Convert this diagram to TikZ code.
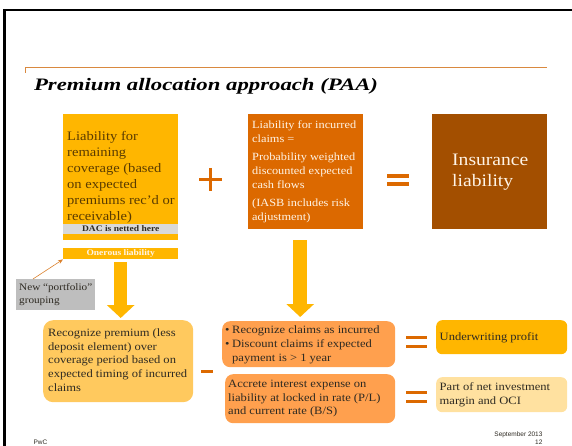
\documentclass[tikz,border=0pt]{standalone}
\usepackage{fontspec}
\setmainfont{Liberation Serif}[FakeStretch=1.12]
\newfontfamily\titlefont{Liberation Serif}[FakeStretch=1.3]
\newfontfamily\footfont{Liberation Sans}
\usetikzlibrary{arrows.meta}

\definecolor{pwcyellow}{HTML}{FFB600}
\definecolor{pwcorange}{HTML}{DC6900}
\definecolor{pwcbrown}{HTML}{A34F00}
\definecolor{softyellow}{HTML}{FFC95E}
\definecolor{softorange}{HTML}{FFA04E}
\definecolor{paleyellow}{HTML}{FFE1A0}
\definecolor{stripgray}{HTML}{D9D9D9}
\definecolor{notegray}{HTML}{BEBEBE}
\definecolor{rulecol}{HTML}{D9893F}
\definecolor{darktext}{HTML}{2E2A22}
\definecolor{browntext}{HTML}{5A3B00}
\definecolor{lighttext}{HTML}{FFF4E6}

% left-aligned block of fixed lines inside a box of given text width
\newcommand\textlines[2]{\makebox[#1][l]{\begin{tabular}{@{}l@{}}#2\end{tabular}}}

\tikzset{
  box/.style={anchor=north west, inner sep=0pt, draw=none},
  strip/.style={anchor=north west, inner sep=0pt, align=center,
    font=\bfseries\fontsize{8.5}{10}\selectfont},
  blockarrow/.style={pwcyellow, line width=13.5pt,
    -{Triangle[width=27pt,length=13pt]}},
  sign/.style={pwcorange, line width=3pt},
}

\begin{document}
\begin{tikzpicture}[x=1pt,y=-1pt]
\useasboundingbox (0,0) rectangle (572,446);

% slide frame and header rule
\draw[line width=2.3pt] (4.5,446) -- (4.5,10.2) -- (572,10.2);
\draw[rulecol, line width=0.8pt] (25,73) -- (25,67.5) -- (547,67.5);

\node[anchor=base west, font=\titlefont\bfseries\itshape\fontsize{17.5}{20}\selectfont]
  (title) at (30.5,91) {Premium allocation approach (PAA)};

% top row: components of the insurance liability
\node[box, fill=pwcyellow, minimum width=115pt, minimum height=126pt,
  text=browntext, font=\fontsize{13}{16}\selectfont]
  (lrc) at (63,114) {\textlines{107pt}{Liability for\\ remaining\\ coverage (based\\ on expected\\ premiums rec'd or\\ receivable)}};
\node[strip, fill=stripgray, minimum width=115pt, minimum height=9.3pt, text=darktext]
  (dac) at (63,224) {DAC is netted here};
\node[strip, fill=pwcyellow, minimum width=115pt, minimum height=11pt, text=lighttext]
  (onerous) at (63,248) {Onerous liability};

\node[box, fill=pwcorange, minimum width=115pt, minimum height=115pt,
  text=lighttext, font=\fontsize{11}{14}\selectfont]
  (lic) at (248,114) {\textlines{107pt}{Liability for incurred\\ claims =\\[4pt] Probability weighted\\ discounted expected\\ cash flows\\[4pt] (IASB includes risk\\ adjustment)}};

\node[box, fill=pwcbrown, minimum width=115pt, minimum height=115pt,
  text=lighttext, font=\fontsize{17.5}{21}\selectfont]
  (ins) at (432,114) {\textlines{75pt}{Insurance\\ liability}};

% plus and equals signs of the top row
\draw[sign] (199,179.5) -- (222,179.5);
\draw[sign] (210.5,168) -- (210.5,191);
\draw[sign, line width=3.4pt] (387,176) -- (409,176);
\draw[sign, line width=3.4pt] (387,184) -- (409,184);

% portfolio note
\node[box, fill=notegray, minimum width=79pt, minimum height=31pt,
  text=darktext, font=\fontsize{10}{13}\selectfont]
  (port) at (16,279) {\textlines{73pt}{New ``portfolio''\\ grouping}};
\draw[rulecol!70!pwcorange, line width=0.6pt, -{Stealth[length=5pt,width=4pt]}]
  ([xshift=17pt]port.north west) -- (onerous.south west);

% bottom row: recognition in the income statement
\node[box, fill=softyellow, rounded corners=10pt, minimum width=150pt, minimum height=82pt,
  text=darktext, font=\fontsize{11.2}{13.8}\selectfont]
  (recog) at (43,320) {\textlines{140pt}{Recognize premium (less\\ deposit element) over\\ coverage period based on\\ expected timing of incurred\\ claims}};

\node[box, fill=softorange, rounded corners=8pt, minimum width=173pt, minimum height=46pt,
  text=darktext, font=\fontsize{11.2}{14}\selectfont]
  (claims) at (222,321) {\textlines{167pt}{\makebox[7pt][l]{\textbullet}Recognize claims as incurred\\
  \makebox[7pt][l]{\textbullet}Discount claims if expected\\ \hspace*{7pt}payment is > 1 year}};

\node[box, fill=softorange, rounded corners=8pt, minimum width=170pt, minimum height=49pt,
  text=darktext, font=\fontsize{11.2}{13.5}\selectfont]
  (accrete) at (225,374) {\textlines{164pt}{Accrete interest expense on\\ liability at locked in rate (P/L)\\ and current rate (B/S)}};

\node[box, fill=pwcyellow, rounded corners=6pt, minimum width=131pt, minimum height=34pt,
  text=darktext, font=\fontsize{11.2}{14}\selectfont]
  (uw) at (436,320) {\textlines{124pt}{Underwriting profit}};

\node[box, fill=paleyellow, rounded corners=6pt, minimum width=131pt, minimum height=35pt,
  text=darktext, font=\fontsize{11.2}{14}\selectfont]
  (nim) at (436,377) {\textlines{124pt}{Part of net investment\\ margin and OCI}};

% minus and equals signs of the bottom row
\draw[sign] (201,371) -- (213,371);
\draw[sign] (406,337.5) -- (427,337.5);
\draw[sign] (406,346.5) -- (427,346.5);
\draw[sign] (406,392.5) -- (427,392.5);
\draw[sign] (406,401.5) -- (427,401.5);

% flow arrows
\draw[blockarrow] ([yshift=-3pt]onerous.south) -- ([yshift=2pt]onerous.south |- recog.north);
\draw[blockarrow] ([xshift=-5.5pt,yshift=-11pt]lic.south) -- ([xshift=-5.5pt,yshift=4pt]lic.south |- claims.north);

% footer
\node[anchor=base west, font=\footfont\fontsize{6.5}{7.5}\selectfont, text=darktext]
  (brand) at (30,444) {PwC};
\node[anchor=base east, font=\footfont\fontsize{6.5}{7.5}\selectfont, text=darktext]
  (date) at (546,436.5) {September 2013};
\node[anchor=base east, font=\footfont\fontsize{6.5}{7.5}\selectfont, text=darktext]
  (page) at (546,444) {12};
\end{tikzpicture}
\end{document}
